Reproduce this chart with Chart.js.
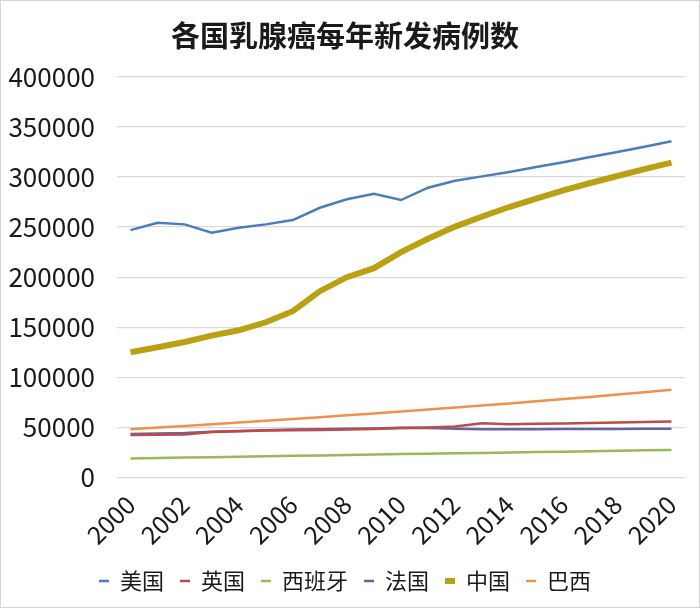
<!DOCTYPE html>
<html>
<head>
<meta charset="utf-8">
<script src="https://cdn.jsdelivr.net/npm/chart.js@4"></script>
<style>
  html, body { margin: 0; padding: 0; background: #fff; }
  #wrap { width: 700px; height: 608px; box-sizing: border-box; border: 1px solid #d4d4d4; position: relative; }
  canvas { display: block; }
</style>
</head>
<body>
<div id="wrap"><canvas id="c" width="698" height="606"></canvas></div>
<script>
const years = ['2000','2001','2002','2003','2004','2005','2006','2007','2008','2009','2010','2011','2012','2013','2014','2015','2016','2017','2018','2019','2020'];
const seriesNames = ['美国','英国','西班牙','法国','中国','巴西'];
const usa    = [247000,254300,252700,244300,249300,252700,257000,269300,277700,283300,277000,289300,296300,300600,305000,310000,314800,320000,325000,330200,335600];
const uk     = [42400,42600,43000,45500,46200,47000,47300,47500,48000,48500,49500,50000,51000,54300,53200,53600,54000,54500,55000,55500,56000];
const spain  = [19000,19400,19900,20300,20800,21200,21700,22100,22600,23000,23400,23800,24200,24600,25000,25400,25800,26300,26700,27200,27600];
const france = [43400,44000,44500,45800,46500,47200,48000,48300,48600,49000,49600,49500,48800,48300,48200,48300,48400,48400,48500,48600,48700];
const china  = [125000,130000,135300,141700,147000,155000,166000,186000,200000,209000,225000,238300,250500,260500,270000,278500,286600,294000,301000,307800,314400];
const brazil = [48300,49900,51500,53200,54900,56700,58500,60300,62100,64000,66000,67900,69900,71900,74000,76100,78300,80500,82800,85200,87700];

const values = [usa, uk, spain, france, china, brazil];
const colors = ['#4A7EBB','#BE4B48','#98B954','#6A62A0','#BBA012','#F0914A'];
const widths = [2.5, 2.5, 2.5, 2.5, 6, 2.5];

const FONT = '"Noto Sans CJK SC", "Noto Sans", sans-serif';

new Chart(document.getElementById('c'), {
  type: 'line',
  data: {
    labels: years,
    datasets: seriesNames.map((n, i) => ({
      label: n,
      data: values[i],
      borderColor: colors[i],
      backgroundColor: colors[i],
      borderWidth: widths[i],
      pointRadius: 0,
      pointStyle: 'line',
      tension: 0,
      fill: false
    }))
  },
  options: {
    responsive: false,
    animation: false,
    layout: { padding: { left: 4, right: 14, top: 6, bottom: 5 } },
    plugins: {
      title: {
        display: true,
        text: '各国乳腺癌每年新发病例数',
        color: '#1a1a1a',
        font: { family: FONT, size: 29, weight: 'bold' },
        padding: { top: 12, bottom: 23 }
      },
      legend: {
        position: 'bottom',
        labels: {
          usePointStyle: true,
          pointStyleWidth: 10,
          color: '#1a1a1a',
          font: { family: FONT, size: 22 },
          padding: 16
        }
      },
      tooltip: { enabled: false }
    },
    scales: {
      x: {
        offset: true,
        grid: { display: false },
        border: { display: false },
        ticks: {
          autoSkip: false,
          maxRotation: 45,
          minRotation: 45,
          color: '#1a1a1a',
          font: { family: FONT, size: 25 },
          padding: 4,
          callback: function(v, i) { return i % 2 === 0 ? years[i] : ''; }
        }
      },
      y: {
        min: 0,
        max: 400000,
        afterFit: function(s) { s.width = 112; },
        grid: { color: '#d9d9d9', lineWidth: 1.2, drawTicks: false },
        border: { display: false },
        ticks: {
          stepSize: 50000,
          color: '#1a1a1a',
          font: { family: FONT, size: 26 },
          padding: 22,
          callback: function(v) { return String(v); }
        }
      }
    }
  }
});
</script>
</body>
</html>
